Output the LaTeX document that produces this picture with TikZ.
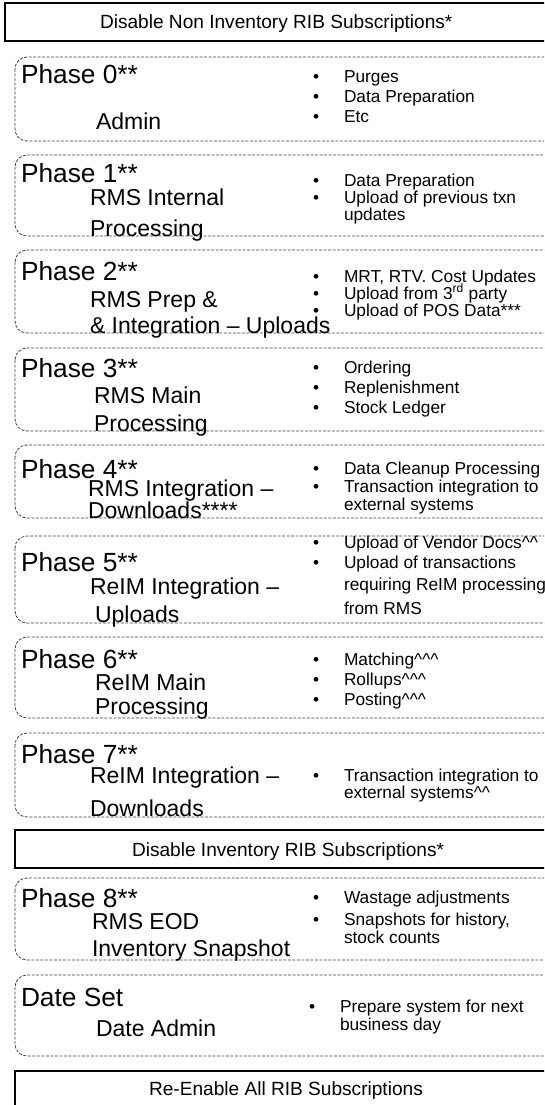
\documentclass[tikz,border=0pt]{standalone}
\usepackage{fontspec}
\setmainfont{Liberation Sans}
\begin{document}
\begin{tikzpicture}[x=1pt,y=-1pt,
  every node/.style={inner sep=0pt, outer sep=0pt, anchor=base west},
  phasebox/.style={draw=black!75, line width=0.8pt, dash pattern=on 3pt off 1.5pt, rounded corners=12pt},
  barbox/.style={draw=black, line width=1.2pt},
  ttl/.style={font=\fontsize{26.3}{30}\selectfont},
  sub/.style={font=\fontsize{23}{27}\selectfont},
  itm/.style={font=\fontsize{17.3}{20}\selectfont},
  dotn/.style={font=\fontsize{17.3}{20}\selectfont},
  bartxt/.style={font=\fontsize{19.1}{22}\selectfont},
]
\useasboundingbox (0,0) rectangle (544,1105);
\clip (0,0) rectangle (544,1105);

% bars
\draw[barbox] (5,3) rectangle (590,41);
\node[bartxt] (bar1) at (100,29) {Disable Non Inventory RIB Subscriptions*};
\draw[barbox] (15,830) rectangle (590,868);
\node[bartxt] (bar2) at (132,856) {Disable Inventory RIB Subscriptions*};
\draw[barbox] (15,1071) rectangle (590,1115);
\node[bartxt] (bar3) at (149,1095) {Re-Enable All RIB Subscriptions};

% Phase 0
\draw[phasebox] (15,57) rectangle (590,141);
\node[ttl] (p0t) at (21,84) {Phase 0**};
\node[sub] (p0s) at (96,130) {Admin};
\node[dotn] (p0d1) at (313,83) {\textbullet};
\node[itm] (p0i1) at (344,83) {Purges};
\node[dotn] (p0d2) at (313,103) {\textbullet};
\node[itm] (p0i2) at (344,103) {Data Preparation};
\node[dotn] (p0d3) at (313,123) {\textbullet};
\node[itm] (p0i3) at (344,123) {Etc};

% Phase 1
\draw[phasebox] (15,155) rectangle (590,236);
\node[ttl] (p1t) at (21,182) {Phase 1**};
\node[sub] (p1s1) at (90,205) {RMS Internal};
\node[sub] (p1s2) at (90,236) {Processing};
\node[dotn] (p1d1) at (313,186) {\textbullet};
\node[itm] (p1i1) at (344,186) {Data Preparation};
\node[dotn] (p1d2) at (313,203) {\textbullet};
\node[itm] (p1i2) at (344,203) {Upload of previous txn};
\node[itm] (p1i3) at (344,220) {updates};

% Phase 2
\draw[phasebox] (15,250) rectangle (590,333);
\node[ttl] (p2t) at (21,280) {Phase 2**};
\node[sub] (p2s1) at (90,307) {RMS Prep \&};
\node[sub] (p2s2) at (90,333) {\& Integration – Uploads};
\node[dotn] (p2d1) at (313,282) {\textbullet};
\node[itm] (p2i1) at (344,282) {MRT, RTV. Cost Updates};
\node[dotn] (p2d2) at (313,299) {\textbullet};
\node[itm] (p2i2) at (344,299) {Upload from 3\textsuperscript{rd} party};
\node[dotn] (p2d3) at (313,316) {\textbullet};
\node[itm] (p2i3) at (344,316) {Upload of POS Data***};

% Phase 3
\draw[phasebox] (15,348) rectangle (590,431);
\node[ttl] (p3t) at (21,377) {Phase 3**};
\node[sub] (p3s1) at (94,403) {RMS Main};
\node[sub] (p3s2) at (94,431) {Processing};
\node[dotn] (p3d1) at (313,373) {\textbullet};
\node[itm] (p3i1) at (344,373) {Ordering};
\node[dotn] (p3d2) at (313,393) {\textbullet};
\node[itm] (p3i2) at (344,393) {Replenishment};
\node[dotn] (p3d3) at (313,413) {\textbullet};
\node[itm] (p3i3) at (344,413) {Stock Ledger};

% Phase 4
\draw[phasebox] (15,445) rectangle (590,518);
\node[ttl] (p4t) at (21,478) {Phase 4**};
\node[sub] (p4s1) at (88,496) {RMS Integration –};
\node[sub] (p4s2) at (88,518) {Downloads****};
\node[dotn] (p4d1) at (313,474) {\textbullet};
\node[itm] (p4i1) at (344,474) {Data Cleanup Processing};
\node[dotn] (p4d2) at (313,492) {\textbullet};
\node[itm] (p4i2) at (344,492) {Transaction integration to};
\node[itm] (p4i3) at (344,510) {external systems};

% Phase 5
\draw[phasebox] (15,536) rectangle (590,623);
\node[ttl] (p5t) at (21,571) {Phase 5**};
\node[sub] (p5s1) at (90,594) {ReIM Integration –};
\node[sub] (p5s2) at (95,622) {Uploads};
\node[dotn] (p5d1) at (313,548) {\textbullet};
\node[itm] (p5i1) at (344,548) {Upload of Vendor Docs\textasciicircum\textasciicircum};
\node[dotn] (p5d2) at (313,568) {\textbullet};
\node[itm] (p5i2) at (344,568) {Upload of transactions};
\node[itm] (p5i3) at (344,590) {requiring ReIM processing};
\node[itm] (p5i4) at (344,614) {from RMS};

% Phase 6
\draw[phasebox] (15,637) rectangle (590,718);
\node[ttl] (p6t) at (21,668) {Phase 6**};
\node[sub] (p6s1) at (95,690) {ReIM Main};
\node[sub] (p6s2) at (95,714) {Processing};
\node[dotn] (p6d1) at (313,665) {\textbullet};
\node[itm] (p6i1) at (344,665) {Matching\textasciicircum\textasciicircum\textasciicircum};
\node[dotn] (p6d2) at (313,685) {\textbullet};
\node[itm] (p6i2) at (344,685) {Rollups\textasciicircum\textasciicircum\textasciicircum};
\node[dotn] (p6d3) at (313,705) {\textbullet};
\node[itm] (p6i3) at (344,705) {Posting\textasciicircum\textasciicircum\textasciicircum};

% Phase 7
\draw[phasebox] (15,733) rectangle (590,817);
\node[ttl] (p7t) at (21,763) {Phase 7**};
\node[sub] (p7s1) at (90,783) {ReIM Integration –};
\node[sub] (p7s2) at (90,816) {Downloads};
\node[dotn] (p7d1) at (313,781) {\textbullet};
\node[itm] (p7i1) at (344,781) {Transaction integration to};
\node[itm] (p7i2) at (344,798) {external systems\textasciicircum\textasciicircum};

% Phase 8
\draw[phasebox] (15,878) rectangle (590,960);
\node[ttl] (p8t) at (21,907) {Phase 8**};
\node[sub] (p8s1) at (92,929) {RMS EOD};
\node[sub] (p8s2) at (92,956) {Inventory Snapshot};
\node[dotn] (p8d1) at (313,903) {\textbullet};
\node[itm] (p8i1) at (344,903) {Wastage adjustments};
\node[dotn] (p8d2) at (313,925) {\textbullet};
\node[itm] (p8i2) at (344,925) {Snapshots for history,};
\node[itm] (p8i3) at (344,943) {stock counts};

% Date Set
\draw[phasebox] (15,975) rectangle (590,1056);
\node[ttl] (dst) at (21,1006) {Date Set};
\node[sub] (dss) at (96,1036) {Date Admin};
\node[dotn] (dsd1) at (309,1012) {\textbullet};
\node[itm] (dsi1) at (340,1012) {Prepare system for next};
\node[itm] (dsi2) at (340,1030) {business day};
\end{tikzpicture}
\end{document}
